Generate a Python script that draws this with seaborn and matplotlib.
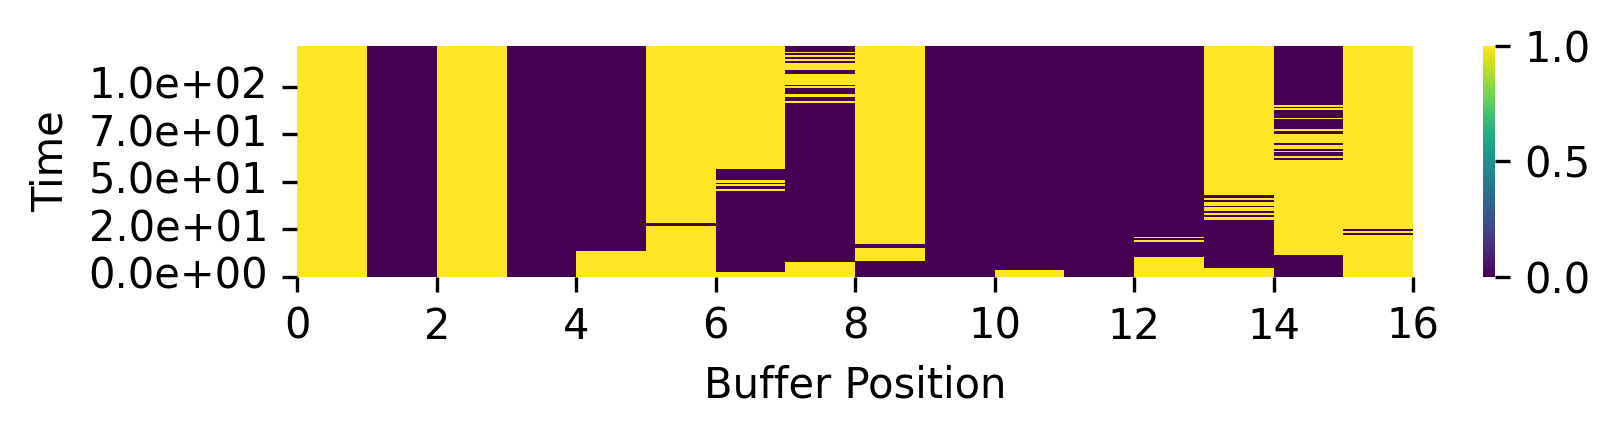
import numpy as np
import matplotlib
matplotlib.use('Agg')
import matplotlib.pyplot as plt
import seaborn as sns

# time grid (fine, so that thin flips can sit between whole steps)
dt = 0.1
t_max = 116.6
times = np.arange(int(round(t_max / dt))) * dt

positions = list(range(16))

# spans of time where each buffer position is 1 (everything else is 0)
spans_0 = [(0, 117)]
spans_1 = []
spans_2 = [(0, 117)]
spans_3 = []
spans_4 = [(0, 13.0)]
spans_5 = [(0, 25.8), (27.0, 117)]
spans_6 = [(0, 2.4), (43.4, 44.4), (45.7, 46.6), (47.2, 48.9), (54.4, 117)]
spans_7 = [(0, 7.4), (87.8, 88.8), (90.8, 92.3), (95.4, 96.4), (97.1, 102.5),
           (104.5, 108.0), (109.0, 110.2), (111.0, 112.0), (112.9, 113.5)]
spans_8 = [(8.0, 14.5), (16.6, 117)]
spans_9 = []
spans_10 = [(0, 3.4)]
spans_11 = []
spans_12 = [(0, 10.0), (17.6, 18.6), (19.3, 20.1)]
spans_13 = [(0, 4.5), (28.6, 30.2), (31.3, 32.4), (33.4, 35.4), (35.9, 37.9),
            (39.0, 40.0), (41.3, 117)]
spans_14 = [(11.0, 59.2), (60.2, 61.0), (63.2, 63.7), (64.7, 66.6), (67.8, 72.2),
            (73.4, 74.7), (79.5, 80.2), (84.2, 85.3), (85.9, 86.8)]
spans_15 = [(0, 21.1), (22.1, 23.1), (24.1, 117)]

all_spans = [spans_0, spans_1, spans_2, spans_3, spans_4, spans_5, spans_6, spans_7,
             spans_8, spans_9, spans_10, spans_11, spans_12, spans_13, spans_14, spans_15]

ytick_times = [0, 24, 48, 72, 96]
ytick_labels = ['0.0e+00', '2.0e+01', '5.0e+01', '7.0e+01', '1.0e+02']
xtick_values = list(range(0, 17, 2))

# build the occupancy matrix (rows = time, cols = buffer position)
occupancy = np.zeros((len(times), len(positions)))
for col, spans in zip(positions, all_spans):
    for a, b in spans:
        occupancy[(times >= a) & (times < b), col] = 1

fig = plt.figure(figsize=(5.4, 1.4567), dpi=300)
ax = fig.add_axes([0.1836, 0.3669, 0.6886, 0.5278])
cax = fig.add_axes([0.9156, 0.3669, 0.0072, 0.5278])

sns.heatmap(occupancy, cmap='viridis', vmin=0, vmax=1, ax=ax, cbar_ax=cax)
ax.invert_yaxis()

ax.set_xticks(xtick_values)
ax.set_xticklabels([str(v) for v in xtick_values], rotation=0)
ax.set_yticks([v / dt for v in ytick_times])
ax.set_yticklabels(ytick_labels, rotation=0)
ax.set_xlabel('Buffer Position')
ax.set_ylabel('Time')

cax.set_yticks([0, 0.5, 1])
cax.set_yticklabels(['0.0', '0.5', '1.0'])

fig.savefig('out.png', dpi=300)
